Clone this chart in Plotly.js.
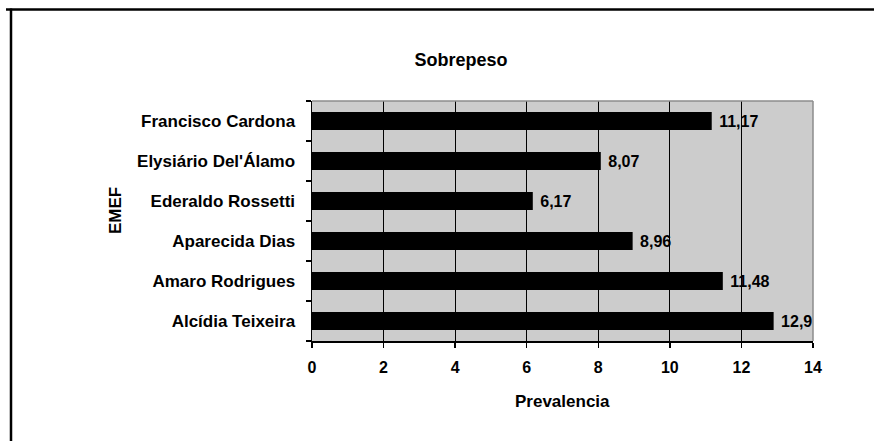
<!DOCTYPE html>
<html>
<head>
<meta charset="utf-8">
<script src="https://cdn.plot.ly/plotly-3.0.1.min.js"></script>
<style>html,body{margin:0;padding:0;background:#fff;}#chart{width:874px;height:441px;}</style>
</head>
<body>
<div id="chart"></div>
<script>
const schools = ["Alcídia Teixeira", "Amaro Rodrigues", "Aparecida Dias", "Ederaldo Rossetti", "Elysiário Del'Álamo", "Francisco Cardona"];
const prevalence = [12.9, 11.48, 8.96, 6.17, 8.07, 11.17];
const xTicks = [0, 2, 4, 6, 8, 10, 12, 14];

const labels = prevalence.map(v => '\u00a0' + String(v).replace('.', ','));
const F = "Liberation Sans, Arial, sans-serif";

const trace = {
  type: 'bar',
  orientation: 'h',
  y: schools,
  x: prevalence,
  text: labels,
  textposition: 'outside',
  textfont: {family: F, size: 16, color: '#000', weight: 'bold'},
  cliponaxis: false,
  marker: {color: '#000', line: {width: 0}},
  width: 0.45,
  hoverinfo: 'x+y'
};

const layout = {
  width: 874, height: 441,
  margin: {l: 312, r: 61, t: 101, b: 100, pad: 0},
  paper_bgcolor: '#fff',
  plot_bgcolor: '#cccccc',
  showlegend: false,
  font: {family: F, size: 16, color: '#000', weight: 'bold'},
  title: {text: 'Sobrepeso', x: 461/874, xref: 'container', xanchor: 'center', y: 1 - 60/441, yref: 'container', yanchor: 'middle', font: {family: F, size: 18, color: '#000', weight: 'bold'}},
  xaxis: {
    range: [0, 14], tickvals: xTicks, ticktext: xTicks.map(String),
    showgrid: true, gridcolor: '#000', gridwidth: 1,
    showline: true, linecolor: '#000', linewidth: 1.5,
    ticks: 'outside', ticklen: 5, tickcolor: '#000', tickwidth: 1.5,
    zeroline: false, ticklabelstandoff: 6,
    tickfont: {family: F, size: 16, color: '#000', weight: 'bold'},
    fixedrange: true
  },
  yaxis: {
    type: 'category', range: [-0.5, 5.5],
    tickson: 'boundaries', ticks: 'outside', ticklen: 5, tickcolor: '#000', tickwidth: 1.5,
    showline: true, linecolor: '#000', linewidth: 1.5, showgrid: false, zeroline: false,
    ticklabelstandoff: 12,
    tickfont: {family: F, size: 17, color: '#000', weight: 'bold'},
    fixedrange: true
  },
  annotations: [
    {text: 'Prevalencia', xref: 'paper', yref: 'paper', x: 0.5, y: (341-401)/240, xanchor: 'center', yanchor: 'middle', showarrow: false, font: {family: F, size: 17, color: '#000', weight: 'bold'}},
    {text: 'EMEF', xref: 'paper', yref: 'paper', x: (115-312)/501, y: (341-211)/240, xanchor: 'center', yanchor: 'middle', textangle: -90, showarrow: false, font: {family: F, size: 17, color: '#000', weight: 'bold'}}
  ],
  shapes: [
    {type: 'line', xref: 'paper', yref: 'paper', x0: 0, x1: 1, y0: 1, y1: 1, line: {color: '#8c8c8c', width: 1.5}, layer: 'above'},
    {type: 'line', xref: 'paper', yref: 'paper', x0: 1, x1: 1, y0: 0, y1: 1, line: {color: '#8c8c8c', width: 1.5}, layer: 'above'},
    {type: 'line', xref: 'paper', yref: 'paper', x0: (6-312)/501, x1: (880-312)/501, y0: (341-9.5)/240, y1: (341-9.5)/240, line: {color: '#000', width: 2.5}},
    {type: 'line', xref: 'paper', yref: 'paper', x0: (11-312)/501, x1: (11-312)/501, y0: (341-8.5)/240, y1: (341-450)/240, line: {color: '#000', width: 2.5}}
  ]
};

Plotly.newPlot('chart', [trace], layout, {displayModeBar: false, staticPlot: true});
</script>
</body>
</html>
